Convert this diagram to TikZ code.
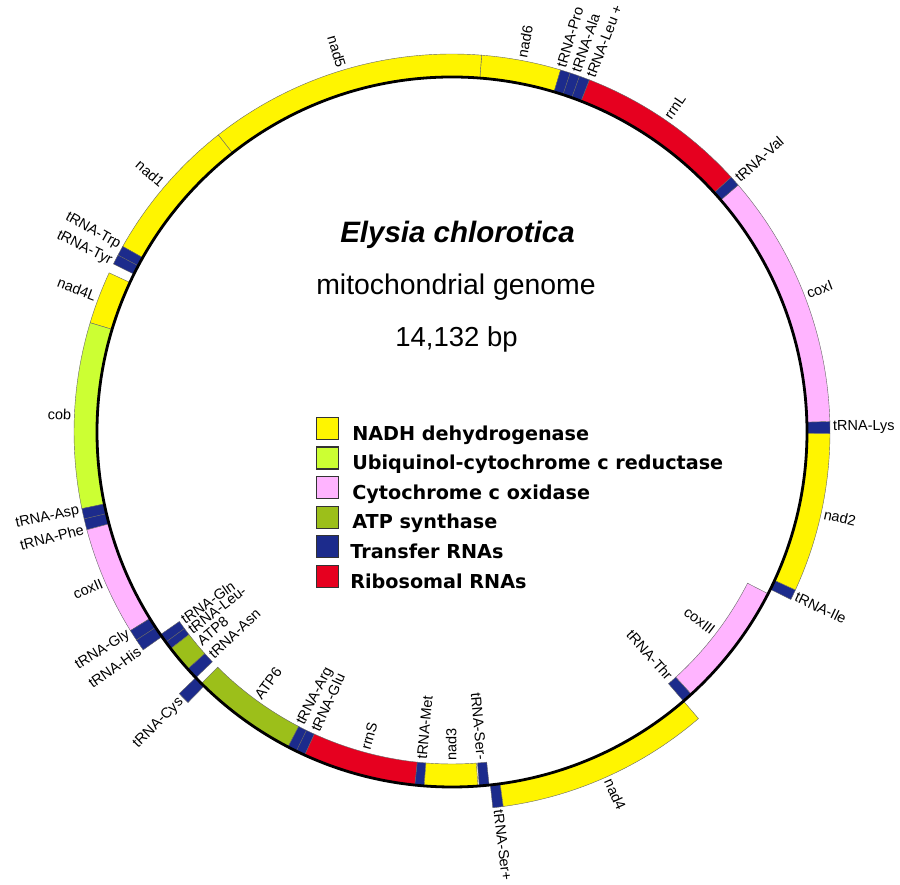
\documentclass[tikz,border=0pt]{standalone}
\usepackage{fontspec}
\setmainfont{Liberation Sans}
\newfontfamily\legendfont{DejaVu Sans}
\usetikzlibrary{positioning}

\definecolor{nadh}{HTML}{FFF500}
\definecolor{ubi}{HTML}{CCFF33}
\definecolor{cox}{HTML}{FFB4FF}
\definecolor{atp}{HTML}{9CBF1A}
\definecolor{trna}{HTML}{1C2B8C}
\definecolor{rrna}{HTML}{E6001F}

\tikzset{
  genelbl/.style={inner sep=0pt, font=\fontsize{14.5}{15}\selectfont},
  legsq/.style={draw=black!80, line width=1.2pt, minimum size=22pt, inner sep=0pt},
  leglbl/.style={inner sep=0pt, font=\legendfont\bfseries\fontsize{19.2}{21}\selectfont},
}

\begin{document}
\begin{tikzpicture}[x=1pt,y=1pt]
  \useasboundingbox (0,0) rectangle (900,885);
  \begin{scope}[shift={(452,453)}]
    \coordinate (O) at (0,0);
    % start/end angle / strand (1 out, 0 in) / colour / label shift / name
    \foreach \ga/\gb/\s/\col/\dl/\txt [count=\i] in {
        85.5/73.3/1/nadh/0/nad6, 128.2/85.5/1/nadh/0/nad5, 150.6/128.2/1/nadh/0/nad1,
        152.1/150.6/1/trna/-0.6/tRNA-Trp, 153.6/152.1/1/trna/0.6/tRNA-Tyr,
        163.2/155.1/1/nadh/0/nad4L, 191.7/163.2/1/ubi/0/cob,
        193.3/191.7/1/trna/-0.6/tRNA-Asp, 195.0/193.3/1/trna/0.6/tRNA-Phe,
        211.7/195.0/1/cox/0/coxII,
        213.4/211.7/1/trna/-0.6/tRNA-Gly, 215.2/213.4/1/trna/0.6/tRNA-His,
        216.3/214.8/0/trna/-0.6/tRNA-Gln, 217.6/216.3/0/trna/0.2/tRNA-Leu-,
        221.9/217.6/0/atp/0/ATP8, 223.8/221.9/0/trna/0/tRNA-Asn,
        225.7/223.8/1/trna/0/tRNA-Cys, 242.5/225.1/0/atp/0/ATP6,
        244.0/242.5/0/trna/-0.6/tRNA-Arg, 245.5/244.0/0/trna/0.6/tRNA-Glu,
        264.0/245.5/0/rrna/0/rrnS, 265.5/264.0/0/trna/0/tRNA-Met,
        274.2/265.5/0/nadh/0/nad3, 276.0/274.4/0/trna/0/tRNA-Ser-,
        277.8/276.2/1/trna/0/tRNA-Ser+, 310.7/277.8/1/nadh/0/nad4,
        312.4/310.7/0/trna/0/tRNA-Thr, 332.9/312.4/0/cox/0/coxIII,
        335.3/333.7/1/trna/0/tRNA-Ile, 359.8/335.3/1/nadh/0/nad2,
        361.6/359.8/1/trna/0/tRNA-Lys, 400.8/361.6/1/cox/0/coxI,
        402.4/400.8/1/trna/0/tRNA-Val, 428.7/402.4/1/rrna/0/rrnL,
        430.3/428.7/1/trna/-0.8/tRNA-Leu +, 431.8/430.3/1/trna/0/tRNA-Ala,
        433.3/431.8/1/trna/0.8/tRNA-Pro}
    {
      \pgfmathsetmacro\ra{\s==1 ? 355 : 332}
      \pgfmathsetmacro\rb{\ra+23}
      \pgfmathsetmacro\rl{\s==1 ? 381 : 329}
      \pgfmathsetmacro\m{mod((\ga+\gb)/2+\dl,360)}
      \pgfmathtruncatemacro\flip{cos(\m)<0 ? 1 : 0}
      \pgfmathsetmacro\rot{\m-180*\flip}
      \pgfmathtruncatemacro\w{mod(\s+\flip,2)}
      \ifnum\w=1 \def\anc{west}\else\def\anc{east}\fi
      \fill[fill=\col, draw=black!60, line width=0.4pt]
        (\ga:\ra pt) arc[start angle=\ga, end angle=\gb, radius=\ra pt]
        -- (\gb:\rb pt) arc[start angle=\gb, end angle=\ga, radius=\rb pt] -- cycle;
      \node[genelbl, anchor=\anc, rotate=\rot] (lab-\i) at (\m:\rl pt) {\txt};
    }
    \draw[line width=2.8pt] (O) circle[radius=355pt];
  \end{scope}

  % title
  \node[anchor=base, font=\bfseries\itshape\fontsize{29.5}{32}\selectfont] (species) at (457.5,642) {Elysia chlorotica};
  \node[anchor=base, font=\fontsize{28.4}{32}\selectfont] (genome) at (456,590) {mitochondrial genome};
  \node[anchor=base, font=\fontsize{27.5}{32}\selectfont] (size) at (456.5,538) {14,132 bp};

  % legend
  \node[legsq, fill=nadh] (sq1) at (327.5,456.5) {};
  \node[legsq, fill=ubi, below=6.4pt of sq1] (sq2) {};
  \node[legsq, fill=cox, below=6.4pt of sq2] (sq3) {};
  \node[legsq, fill=atp, below=6.4pt of sq3] (sq4) {};
  \node[legsq, fill=trna, below=6.4pt of sq4] (sq5) {};
  \node[legsq, fill=rrna, below=6.4pt of sq5] (sq6) {};
  \node[leglbl, anchor=base west] (leg1) at ([xshift=13pt]sq1.south east) {NADH dehydrogenase};
  \node[leglbl, anchor=base west] (leg2) at ([xshift=13pt]sq2.south east) {Ubiquinol-cytochrome c reductase};
  \node[leglbl, anchor=base west] (leg3) at ([xshift=13pt]sq3.south east) {Cytochrome c oxidase};
  \node[leglbl, anchor=base west] (leg4) at ([xshift=13pt]sq4.south east) {ATP synthase};
  \node[leglbl, anchor=base west] (leg5) at ([xshift=11pt]sq5.south east) {Transfer RNAs};
  \node[leglbl, anchor=base west] (leg6) at ([xshift=11pt]sq6.south east) {Ribosomal RNAs};
\end{tikzpicture}
\end{document}
